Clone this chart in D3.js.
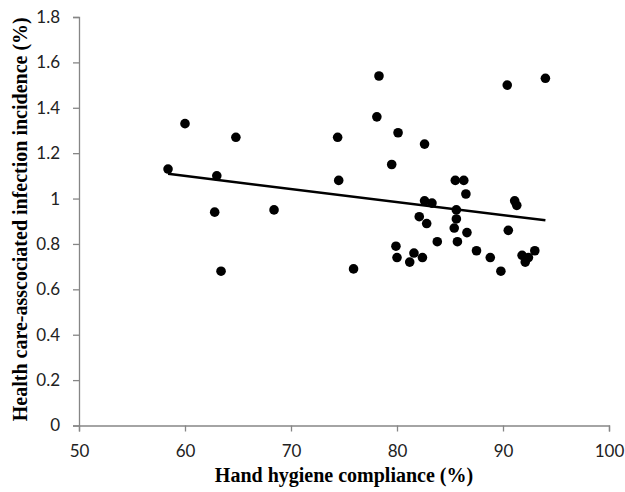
<!DOCTYPE html>
<html>
<head>
<meta charset="utf-8">
<script src="https://cdn.jsdelivr.net/npm/d3@7"></script>
<style>
  body { margin: 0; background: #fff; }
  .tick text { font-family: Lato, "Open Sans", sans-serif; font-size: 17px; fill: #222; }
  .axis-title { font-family: "Liberation Serif", "Times New Roman", serif; font-weight: bold; font-size: 20px; fill: #000; }
</style>
</head>
<body>
<script>
// hand hygiene compliance (%) per unit
var compliance = [58.4, 60.0, 64.8, 63.0, 62.8, 68.4, 63.4,
                  78.3, 90.4, 94.0, 78.1, 74.4, 80.1, 82.6, 79.5, 74.5,
                  85.5, 86.3, 86.5, 82.6, 83.3, 91.1, 91.3, 85.6, 85.6,
                  82.1, 82.8, 85.4, 86.6, 90.5, 83.8, 85.7, 79.9,
                  75.9, 80.0, 81.6, 81.2, 82.4, 87.5, 88.8, 89.8,
                  91.8, 92.1, 92.4, 93.0];
// health care-associated infection incidence (%)
var incidence = [1.13, 1.33, 1.27, 1.10, 0.94, 0.95, 0.68,
                 1.54, 1.50, 1.53, 1.36, 1.27, 1.29, 1.24, 1.15, 1.08,
                 1.08, 1.08, 1.02, 0.99, 0.98, 0.99, 0.97, 0.95, 0.91,
                 0.92, 0.89, 0.87, 0.85, 0.86, 0.81, 0.81, 0.79,
                 0.69, 0.74, 0.76, 0.72, 0.74, 0.77, 0.74, 0.68,
                 0.75, 0.72, 0.74, 0.77];

var xTicks = [50, 60, 70, 80, 90, 100],
    yTicks = [0, 0.2, 0.4, 0.6, 0.8, 1, 1.2, 1.4, 1.6, 1.8];

var width = 625, height = 492,
    plotLeft = 79, plotRight = 609, plotTop = 17, plotBottom = 425.5;

var svg = d3.select("body").append("svg")
    .attr("width", width)
    .attr("height", height);

var x = d3.scaleLinear().domain([50, 100]).range([plotLeft, plotRight]);
var y = d3.scaleLinear().domain([0, 1.8]).range([plotBottom, plotTop]);

svg.append("g")
    .attr("transform", "translate(0," + plotBottom + ")")
    .call(d3.axisBottom(x).tickValues(xTicks).tickSize(6).tickPadding(13).tickFormat(d3.format("d")));

svg.append("g")
    .attr("transform", "translate(" + plotLeft + ",0)")
    .call(d3.axisLeft(y).tickValues(yTicks).tickSize(6).tickPadding(13)
        .tickFormat(function(d){ return d === 0 || d === 1 ? d : d3.format(".1f")(d); }));

svg.selectAll(".domain, .tick line").attr("stroke", "#868686").attr("stroke-width", 1.3);

// least-squares trend line
var pts = compliance.map(function(c, i){ return [c, incidence[i]]; });
var mx = d3.mean(compliance), my = d3.mean(incidence);
var slope = d3.sum(pts, function(p){ return (p[0]-mx)*(p[1]-my); }) /
            d3.sum(pts, function(p){ return (p[0]-mx)*(p[0]-mx); });
var icpt = my - slope*mx;
var xr = d3.extent(compliance);

svg.append("g")
    .selectAll("circle")
    .data(pts)
    .enter()
    .append("circle")
    .attr("cx", function(d){ return x(d[0]); })
    .attr("cy", function(d){ return y(d[1]); })
    .attr("r", 4.8)
    .attr("fill", "#000");

svg.append("line")
    .attr("x1", x(xr[0]))
    .attr("y1", y(icpt + slope*xr[0]))
    .attr("x2", x(xr[1]))
    .attr("y2", y(icpt + slope*xr[1]))
    .attr("stroke", "#000")
    .attr("stroke-width", 2.5);

svg.append("text")
    .attr("class", "axis-title")
    .attr("x", (plotLeft + plotRight)/2)
    .attr("y", 482)
    .attr("text-anchor", "middle")
    .text("Hand hygiene compliance (%)");

svg.append("text")
    .attr("class", "axis-title")
    .attr("transform", "translate(27," + ((plotTop + plotBottom)/2 - 2) + ") rotate(-90)")
    .attr("text-anchor", "middle")
    .text("Health care-asscociated infection incidence (%)");
</script>
</body>
</html>
